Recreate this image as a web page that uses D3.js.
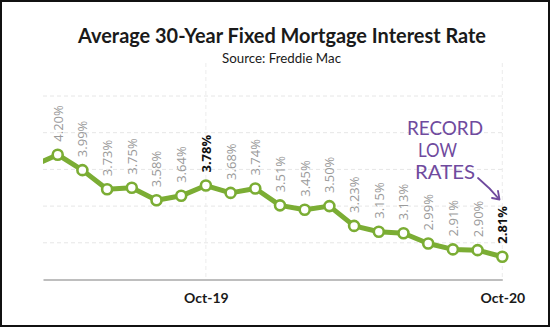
<!DOCTYPE html>
<html><head><meta charset="utf-8">
<script src="https://cdn.jsdelivr.net/npm/d3@7"></script>
<style>html,body{margin:0;padding:0;background:#fff}svg{display:block}</style>
</head><body>
<svg id="c" width="550" height="328"></svg>
<script>
// ---- data ----
const months = ["Mar-19","Apr-19","May-19","Jun-19","Jul-19","Aug-19","Sep-19","Oct-19","Nov-19","Dec-19","Jan-20","Feb-20","Mar-20","Apr-20","May-20","Jun-20","Jul-20","Aug-20","Sep-20","Oct-20"];
const rates = [4.05,4.20,3.99,3.73,3.75,3.58,3.64,3.78,3.68,3.74,3.51,3.45,3.50,3.23,3.15,3.13,2.99,2.91,2.90,2.81];
const labelled = [false,true,true,true,true,true,true,true,true,true,true,true,true,true,true,true,true,true,true,true];
const boldLabels = ["Oct-19","Oct-20"];
const xTickLabels = ["Oct-19","Oct-20"];
const yGrid = [3.0,3.5,4.0,4.5,5.0];
const title = "Average 30-Year Fixed Mortgage Interest Rate";
const subtitle = "Source: Freddie Mac";
const note = ["RECORD","LOW","RATES"];

const svg = d3.select("#c");
const green = "#7bad34", purple = "#6f4a9e";

// frame
svg.append("rect").attr("x",1).attr("y",1).attr("width",548).attr("height",325)
  .attr("fill","#fff").attr("stroke","#111").attr("stroke-width",2);

const idx = months.map((m,i)=>i-1); // first month sits just outside left edge
const x = d3.scaleLinear().domain([-0.595,18]).range([43,502.3]);
const y = d3.scaleLinear().domain([2.5,5.0]).range([279.5,96]);

svg.append("defs").append("clipPath").attr("id","plot")
  .append("rect").attr("x",43).attr("y",55).attr("width",470).attr("height",240);

// horizontal gridlines
svg.append("g").selectAll("line").data(yGrid).join("line")
  .attr("x1",x(-0.595)).attr("x2",x(18)).attr("y1",d=>y(d)).attr("y2",d=>y(d))
  .attr("stroke","#e6e6e6").attr("stroke-width",1).attr("stroke-dasharray","4,3");

// vertical gridlines at ticks
svg.append("g").selectAll("line").data(xTickLabels).join("line")
  .attr("x1",d=>x(idx[months.indexOf(d)])).attr("x2",d=>x(idx[months.indexOf(d)]))
  .attr("y1",63).attr("y2",y(2.5))
  .attr("stroke","#ececec").attr("stroke-width",1).attr("stroke-dasharray","4,3");

// x axis
const xAxis = d3.axisBottom(x).tickValues(xTickLabels.map(d=>idx[months.indexOf(d)]))
  .tickFormat(v=>months[v+1]).tickSize(0).tickPadding(14);
const ga = svg.append("g").attr("transform",`translate(0,${y(2.5)})`).call(xAxis);
ga.select(".domain").attr("stroke","#a8a8a8").attr("stroke-width",1.6);
ga.selectAll("text").attr("font-family","Lato, 'Open Sans', sans-serif").attr("font-weight","bold")
  .attr("font-size",14).attr("fill","#1a1a1a");

// line
const pts = months.map((m,i)=>({m,i:idx[i],v:rates[i],lab:labelled[i]}));
const gp = svg.append("g").attr("clip-path","url(#plot)");
gp.append("path").datum(pts)
  .attr("d",d3.line().x(d=>x(d.i)).y(d=>y(d.v)))
  .attr("fill","none").attr("stroke",green).attr("stroke-width",5).attr("stroke-linejoin","round");
gp.selectAll("circle").data(pts.filter(d=>d.lab)).join("circle")
  .attr("cx",d=>x(d.i)).attr("cy",d=>y(d.v)).attr("r",5)
  .attr("fill","#fff").attr("stroke",green).attr("stroke-width",2.6);

// value labels
svg.append("g").selectAll("text").data(pts.filter(d=>d.lab)).join("text")
  .attr("transform",d=>`translate(${x(d.i)+5},${y(d.v)-13}) rotate(-90)`)
  .attr("font-family","'Open Sans', sans-serif").attr("font-size",13)
  .attr("font-weight",d=>boldLabels.includes(d.m)?"bold":"normal")
  .attr("fill",d=>boldLabels.includes(d.m)?"#111":"#9a9a9a")
  .text(d=>d.v.toFixed(2)+"%");

// titles
svg.append("text").attr("x",282).attr("y",43).attr("text-anchor","middle")
  .attr("font-family","Lato, sans-serif").attr("font-weight","bold").attr("font-size",21)
  .attr("fill","#1a1a1a").attr("textLength",408).attr("lengthAdjust","spacingAndGlyphs").text(title);
svg.append("text").attr("x",281.5).attr("y",63).attr("text-anchor","middle")
  .attr("font-family","Lato, sans-serif").attr("font-size",13.5)
  .attr("fill","#1a1a1a").attr("textLength",119).attr("lengthAdjust","spacingAndGlyphs").text(subtitle);

// annotation
const na = svg.append("g").attr("font-family","Lato, sans-serif").attr("font-size",19)
  .attr("fill",purple).attr("text-anchor","middle");
na.append("text").attr("x",445).attr("y",135).attr("textLength",76).attr("lengthAdjust","spacingAndGlyphs").text(note[0]);
na.append("text").attr("x",437.5).attr("y",157).attr("textLength",39).attr("lengthAdjust","spacingAndGlyphs").text(note[1]);
na.append("text").attr("x",445).attr("y",179).attr("textLength",60).attr("lengthAdjust","spacingAndGlyphs").text(note[2]);
svg.append("path").attr("d","M478,178 Q490,188 499,199").attr("fill","none")
  .attr("stroke",purple).attr("stroke-width",1.8).attr("stroke-linecap","round");
svg.append("path").attr("d","M492,198 L499.5,199.5 L498,191").attr("fill","none")
  .attr("stroke",purple).attr("stroke-width",1.8).attr("stroke-linecap","round").attr("stroke-linejoin","round");
</script>
</body></html>
